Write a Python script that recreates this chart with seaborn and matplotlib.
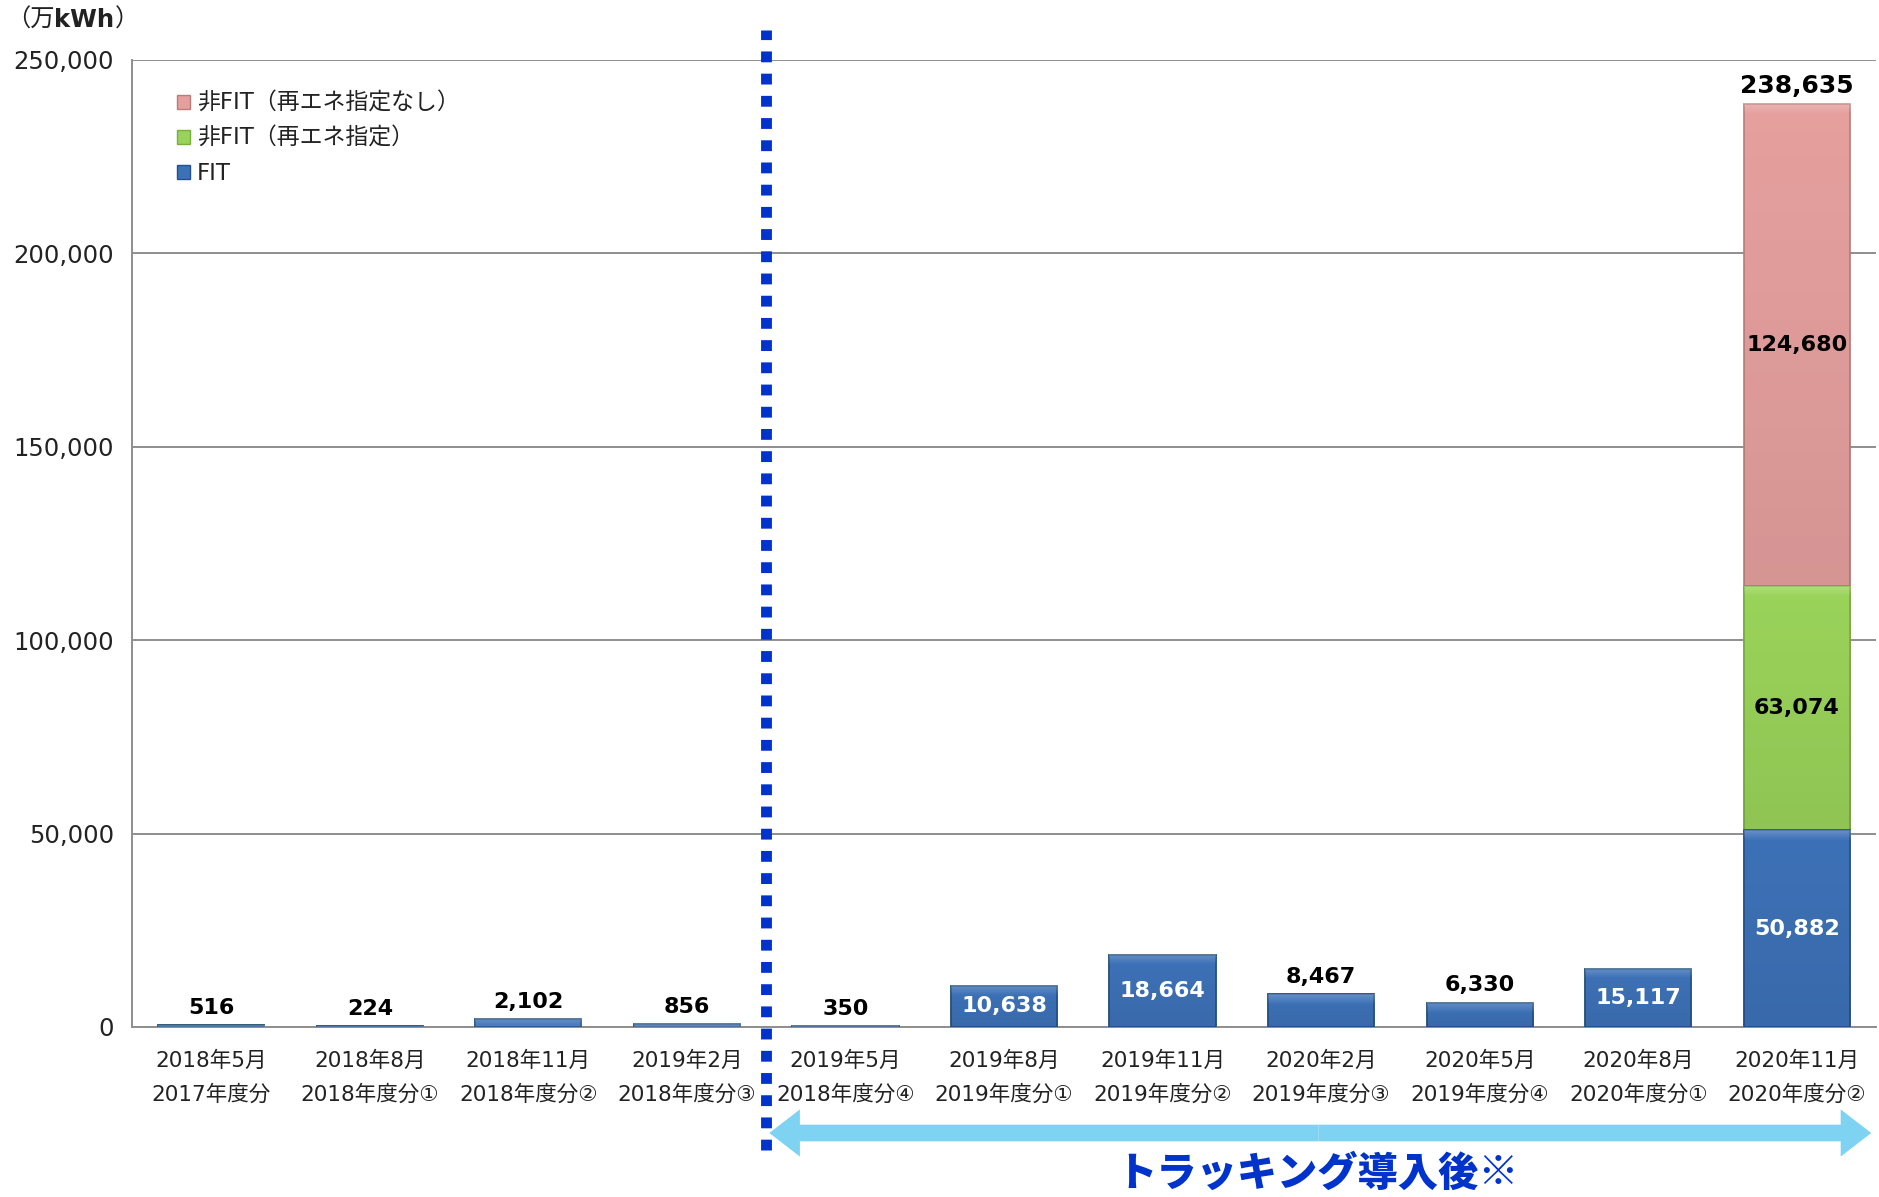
import numpy as np
import matplotlib
matplotlib.use("Agg")
import matplotlib.pyplot as plt
import seaborn as sns
from matplotlib.ticker import FuncFormatter
from matplotlib.patches import Patch

# ---------------- data ----------------
months = ["2018年5月", "2018年8月", "2018年11月", "2019年2月", "2019年5月", "2019年8月",
          "2019年11月", "2020年2月", "2020年5月", "2020年8月", "2020年11月"]
periods = ["2017年度分", "2018年度分①", "2018年度分②", "2018年度分③", "2018年度分④",
           "2019年度分①", "2019年度分②", "2019年度分③", "2019年度分④", "2020年度分①",
           "2020年度分②"]
fit = [516, 224, 2102, 856, 350, 10638, 18664, 8467, 6330, 15117, 50882]
nonfit_re = [0, 0, 0, 0, 0, 0, 0, 0, 0, 0, 63074]
nonfit_other = [0, 0, 0, 0, 0, 0, 0, 0, 0, 0, 124680]
total_labels = [516, 224, 2102, 856, 350, 10638, 18664, 8467, 6330, 15117, 238635]
fit_label_inside = [False, False, False, False, False, True, True, False, False, True, True]
series_names = ["非FIT（再エネ指定なし）", "非FIT（再エネ指定）", "FIT"]
y_ticks = [0, 50000, 100000, 150000, 200000, 250000]
unit_label = ["（万", "kWh", "）"]
after_label = "トラッキング導入後※"

# ---------------- style ----------------
sns.set_style("white")
plt.rcParams["font.family"] = ["DejaVu Sans", "Noto Sans CJK JP"]

c_fit, c_fit_edge = "#3D71B7", "#24508C"
c_re, c_re_edge = "#9AD35A", "#78AE3C"
c_oth, c_oth_edge = "#E5A09E", "#B97C7A"
c_dot = "#0033CC"
c_arrow = "#7FD3F2"

cats = [f"{m}\n{p}" for m, p in zip(months, periods)]
fit_a = np.array(fit, dtype=float)
re_a = np.array(nonfit_re, dtype=float)
oth_a = np.array(nonfit_other, dtype=float)

fig = plt.figure(figsize=(18.79, 11.97), dpi=100)
ax = fig.add_axes([132 / 1879, 1 - 1027 / 1197, 1744 / 1879, 967 / 1197])

bw = 0.67
sns.barplot(x=cats, y=fit_a + re_a + oth_a, color=c_oth, saturation=1, width=bw,
            edgecolor=c_oth_edge, linewidth=1.2, errorbar=None, ax=ax, zorder=3)
sns.barplot(x=cats, y=fit_a + re_a, color=c_re, saturation=1, width=bw,
            edgecolor=c_re_edge, linewidth=1.2, errorbar=None, ax=ax, zorder=3)
sns.barplot(x=cats, y=fit_a, color=c_fit, saturation=1, width=bw,
            edgecolor=c_fit_edge, linewidth=1.2, errorbar=None, ax=ax, zorder=3)

ax.set_xlim(-0.5, len(cats) - 0.5)
ax.set_ylim(0, 250000)

# ---- soft bevel shading on visible segments ----
px_to_data = 250000 / 967
bevel = 10 * px_to_data
blue_bars = ax.containers[2]
for i, rect in enumerate(blue_bars.patches):
    x0 = rect.get_x()
    w = rect.get_width()
    segs = [(0.0, fit_a[i]), (fit_a[i], re_a[i]), (fit_a[i] + re_a[i], oth_a[i])]
    for b, h in segs:
        if h <= 0:
            continue
        n = 400
        depth = np.linspace(0, h, n)  # from top downwards
        img = np.zeros((n, 1, 4))
        top_mask = depth < bevel
        img[top_mask, 0, :3] = 1.0
        img[top_mask, 0, 3] = 0.22 * (1 - depth[top_mask] / bevel)
        img[~top_mask, 0, :3] = 0.0
        img[~top_mask, 0, 3] = 0.07 * (depth[~top_mask] / h)
        ax.imshow(img, extent=[x0, x0 + w, b, b + h], aspect="auto",
                  interpolation="bilinear", zorder=3.5, origin="upper")
ax.set_xlim(-0.5, len(cats) - 0.5)
ax.set_ylim(0, 250000)

ax.set_yticks(y_ticks)
ax.yaxis.set_major_formatter(FuncFormatter(lambda v, p: f"{int(v):,}"))
ax.set_xlabel("")
ax.set_ylabel("")

ax.yaxis.grid(True, color="#8E8E8E", lw=1.4)
ax.set_axisbelow(True)
for s in ["top", "right"]:
    ax.spines[s].set_visible(False)
for s in ["left", "bottom"]:
    ax.spines[s].set_color("#8E8E8E")
    ax.spines[s].set_linewidth(1.4)

ax.tick_params(axis="y", length=7, width=1.4, color="#8E8E8E", pad=6,
               labelsize=17.5, labelcolor="#222222")
ax.tick_params(axis="x", which="major", length=0, pad=17, labelsize=15.5,
               labelcolor="#222222")
ax.set_xticks(np.arange(-0.5, len(cats), 1), minor=True)
ax.tick_params(axis="x", which="minor", length=6, width=1.4, color="#8E8E8E")
for lbl in ax.get_xticklabels():
    lbl.set_linespacing(1.8)

# ---------------- value labels ----------------
lab_kw = dict(fontweight="bold", ha="center", zorder=5)
for i in range(len(cats)):
    if fit_label_inside[i]:
        ax.text(i, fit_a[i] / 2, f"{fit[i]:,}", color="white", va="center",
                fontsize=16, **lab_kw)
    if re_a[i] > 0:
        ax.text(i, fit_a[i] + re_a[i] / 2, f"{nonfit_re[i]:,}", color="black",
                va="center", fontsize=16, **lab_kw)
    if oth_a[i] > 0:
        ax.text(i, fit_a[i] + re_a[i] + oth_a[i] / 2, f"{nonfit_other[i]:,}",
                color="black", va="center", fontsize=16, **lab_kw)
    if (not fit_label_inside[i]) or re_a[i] > 0 or oth_a[i] > 0:
        top = fit_a[i] + re_a[i] + oth_a[i]
        fs = 18 if (re_a[i] > 0 or oth_a[i] > 0) else 16
        ax.annotate(f"{total_labels[i]:,}", (i, top), xytext=(0, 8),
                    textcoords="offset points", va="baseline", color="black",
                    annotation_clip=False, fontsize=fs, **lab_kw)

# ---------------- legend ----------------
handles = [Patch(facecolor=c_oth, edgecolor=c_oth_edge),
           Patch(facecolor=c_re, edgecolor=c_re_edge),
           Patch(facecolor=c_fit, edgecolor=c_fit_edge)]
leg = ax.legend(handles, series_names, loc="upper left", bbox_to_anchor=(0.026, 0.967),
                frameon=False, fontsize=16.5, handlelength=0.55, handleheight=0.55,
                handletextpad=0.3, labelspacing=0.52, borderpad=0, borderaxespad=0)
for t in leg.get_texts():
    t.set_color("#222222")

# ---------------- divider & arrow ----------------
ax.axvline(3.5, ymin=(1027 - 1150) / 967, ymax=(1027 - 30) / 967, color=c_dot,
           lw=7.8, linestyle=(0, (1.0, 1.05)), solid_capstyle="butt",
           dash_capstyle="butt", clip_on=False, zorder=6)

tr = ax.get_xaxis_transform()
y_arr = (1027 - 1133) / 967
x_mid = (3.5 + 10.47) / 2
style = "simple,head_length=2.2,head_width=3.4,tail_width=1.2"
for x_end in (3.52, 10.47):
    ax.annotate("", xy=(x_end, y_arr), xytext=(x_mid, y_arr), xycoords=tr, textcoords=tr,
                arrowprops=dict(arrowstyle=style, color=c_arrow, lw=0, shrinkA=0,
                                shrinkB=0, mutation_scale=10),
                annotation_clip=False, zorder=4)

ax.text(6.98, (1027 - 1174) / 967, after_label, transform=tr, ha="center", va="center",
        fontsize=29, fontweight="black", color=c_dot, family=["Noto Sans CJK JP"])

# ---------------- unit label ----------------
fig.canvas.draw()
r = fig.canvas.get_renderer()
xpos = 6
ypix = 1197 - 20
weights = ["normal", "bold", "normal"]
for part, wgt in zip(unit_label, weights):
    t = fig.text(xpos / 1879, ypix / 1197, part, fontsize=17.5, fontweight=wgt,
                 va="center", ha="left", color="#222222")
    bb = t.get_window_extent(renderer=r)
    xpos = bb.x1

fig.savefig("out.png", dpi=100)
